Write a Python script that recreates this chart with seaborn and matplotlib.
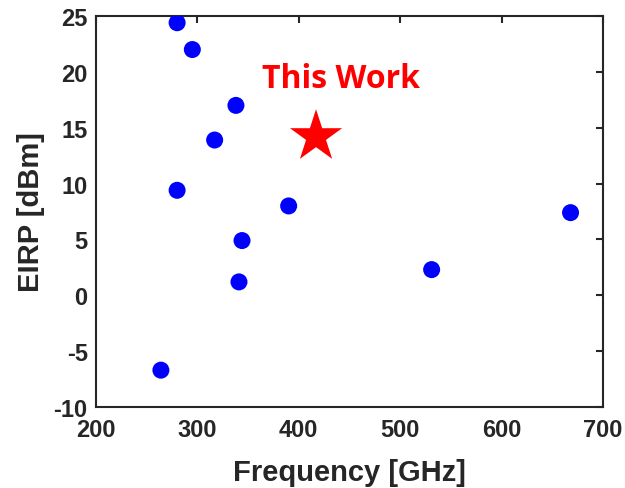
import matplotlib
matplotlib.use("Agg")
import matplotlib.pyplot as plt
import seaborn as sns
import pandas as pd

freq_ghz = [280, 295, 338, 317, 280, 390, 344, 341, 264, 531, 668]
eirp_dbm = [24.4, 22.0, 17.0, 13.9, 9.4, 8.0, 4.9, 1.2, -6.7, 2.3, 7.4]
this_work_freq = [417]
this_work_eirp = [14.2]
x_ticks = [200, 300, 400, 500, 600, 700]
y_ticks = [-10, -5, 0, 5, 10, 15, 20, 25]

sns.set_theme(style="white")
plt.rcParams['font.family'] = ['Liberation Sans', 'DejaVu Sans']
plt.rcParams['axes.unicode_minus'] = False

fig = plt.figure(figsize=(6.25, 4.89), dpi=100)
ax = fig.add_axes([0.1536, 0.1656, 0.8112, 0.7996])

df = pd.DataFrame({"f": freq_ghz, "e": eirp_dbm})
sns.scatterplot(data=df, x="f", y="e", ax=ax, color="#0000ff", s=150,
                edgecolor="none", linewidth=0, zorder=3)
tw = pd.DataFrame({"f": this_work_freq, "e": this_work_eirp})
sns.scatterplot(data=tw, x="f", y="e", ax=ax, color="#ff0000", marker="*",
                s=1560, edgecolor="none", linewidth=0, zorder=4)

ax.text(442, 19.45, "This Work", color="#ff0000", fontsize=23,
        fontweight="bold", family=["Open Sans", "DejaVu Sans"],
        ha="center", va="center")

ax.set_xlim(200, 700)
ax.set_ylim(-10, 25)
ax.set_xticks(x_ticks)
ax.set_yticks(y_ticks)
ax.tick_params(direction="in", length=5, width=1.5, color="#262626",
               top=True, right=True, labelsize=17, labelcolor="#262626")
ax.tick_params(axis="x", pad=8)
ax.tick_params(axis="y", pad=6)
for lbl in ax.get_xticklabels() + ax.get_yticklabels():
    lbl.set_fontweight("bold")
for sp in ax.spines.values():
    sp.set_color("#262626")
    sp.set_linewidth(1.5)

ax.set_xlabel("Frequency [GHz]", fontsize=21, fontweight="bold",
              color="#262626", labelpad=12)
ax.set_ylabel("EIRP [dBm]", fontsize=21, fontweight="bold",
              color="#262626", labelpad=6)

fig.savefig("out.png", dpi=100)
